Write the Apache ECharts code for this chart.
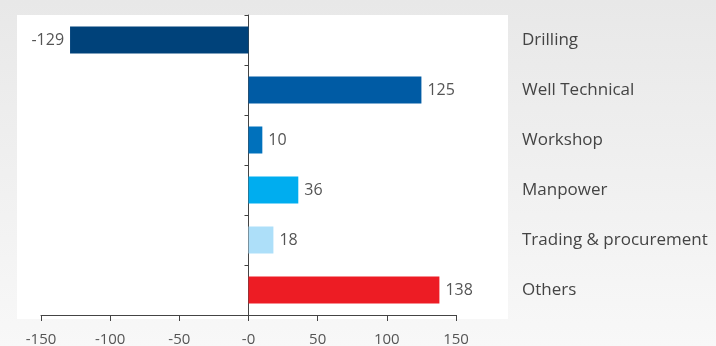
<!DOCTYPE html>
<html>
<head>
<meta charset="utf-8">
<script src="https://cdn.jsdelivr.net/npm/echarts@6/dist/echarts.min.js"></script>
<style>
  html, body { margin: 0; padding: 0; }
  #chart { width: 716px; height: 346px; }
</style>
</head>
<body>
<div id="chart"></div>
<script>
// Change by business segment
const categories = ['Drilling', 'Well Technical', 'Workshop', 'Manpower', 'Trading & procurement', 'Others'];
const values = [-129, 125, 10, 36, 18, 138];
const barColors = ['#00427a', '#005ba4', '#0071bc', '#00adef', '#addff9', '#ed1c24'];
const tickValues = [-150, -100, -50, 0, 50, 100, 150];
const tickLabels = ['-150', '-100', '-50', '-0', '50', '100', '150'];

const chart = echarts.init(document.getElementById('chart'));

const textColor = '#555';
const fontFamily = '"Open Sans", "Noto Sans", sans-serif';

chart.setOption({
  backgroundColor: {
    type: 'linear', x: 0, y: 0, x2: 0, y2: 1,
    colorStops: [
      { offset: 0, color: '#e8e8e8' },
      { offset: 1, color: '#f8f8f8' }
    ]
  },
  graphic: [{
    type: 'rect',
    z: -10,
    shape: { x: 17, y: 15, width: 491, height: 304 },
    style: { fill: '#ffffff' }
  }],
  grid: {
    left: 41, right: 260, top: 15, bottom: 31,
    containLabel: false,
    outerBoundsMode: 'none'
  },
  xAxis: {
    type: 'value',
    min: -150,
    max: 150,
    interval: 50,
    splitLine: { show: false },
    axisLine: { show: true, lineStyle: { color: '#444', width: 1 } },
    axisTick: { show: true, length: 6, lineStyle: { color: '#444' } },
    axisLabel: {
      margin: 17,
      color: textColor,
      fontSize: 15,
      fontFamily: fontFamily,
      formatter: function (v) {
        const i = tickValues.indexOf(v);
        return i >= 0 ? tickLabels[i] : '';
      }
    }
  },
  yAxis: [{
    type: 'category',
    data: categories,
    inverse: true,
    axisLine: { show: true, onZero: true, lineStyle: { color: '#444', width: 1 } },
    axisTick: { show: true, length: 4, inside: false, lineStyle: { color: '#444' } },
    axisLabel: { show: false },
    splitLine: { show: false }
  }, {
    type: 'category',
    data: categories,
    inverse: true,
    position: 'right',
    axisLine: { show: false },
    axisTick: { show: false },
    axisLabel: {
      margin: 66,
      color: '#444',
      fontSize: 17,
      fontFamily: fontFamily,
      align: 'left',
      padding: [0, 0, 4, 0]
    }
  }],
  series: [{
    type: 'bar',
    yAxisIndex: 0,
    barWidth: 27,
    data: values.map(function (v, i) {
      return {
        value: v,
        itemStyle: { color: barColors[i] },
        label: { position: v < 0 ? 'left' : 'right' }
      };
    }),
    label: {
      show: true,
      distance: 6,
      color: textColor,
      fontSize: 16,
      fontFamily: fontFamily
    },
    animation: false
  }],
  animation: false
});
</script>
</body>
</html>
